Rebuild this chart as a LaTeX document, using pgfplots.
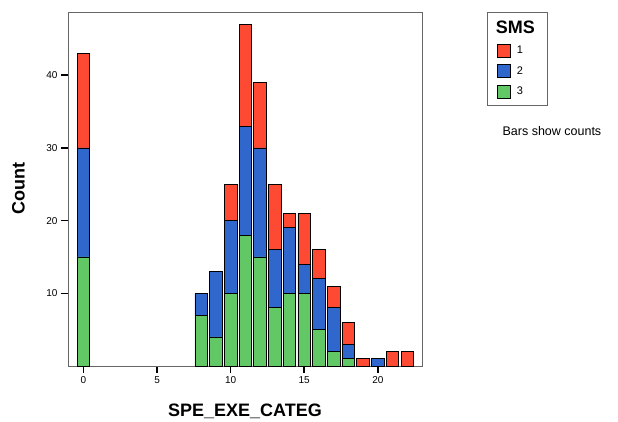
\documentclass[border=0pt]{standalone}
\usepackage{pgfplots}
\pgfplotsset{compat=1.18}
\usepackage{fontspec}
\setmainfont{Liberation Sans}
\definecolor{cRed}{RGB}{255,74,51}
\definecolor{cBlue}{RGB}{47,103,204}
\definecolor{cGreen}{RGB}{98,200,102}
\pgfplotsset{sq/.style={legend image code/.code={\draw[fill=##1,draw=black,line width=0.8pt] (0pt,-6.5pt) rectangle (13pt,6.5pt);}}}
\begin{document}
\begin{tikzpicture}
\path[use as bounding box] (-68pt,-56pt) rectangle (550pt,366pt);
\begin{axis}[
  at={(0pt,0pt)}, anchor=south west,
  scale only axis, width=354pt, height=354pt,
  ybar stacked, bar width=0.85,
  xmin=-1.05, xmax=23.0, ymin=0, ymax=48.7,
  xtick={0,5,10,15,20}, ytick={10,20,30,40},
  tick align=outside, tick pos=left,
  major tick length=7pt,
  tick style={black, line width=1.6pt},
  axis line style={draw=black!60, line width=0.8pt},
  tick label style={font=\fontsize{10}{11}\selectfont},
  /pgf/number format/assume math mode=true,
  xlabel={SPE\_EXE\_CATEG}, ylabel={Count},
  xlabel style={font=\fontsize{18}{20}\selectfont\bfseries, at={(axis description cs:0.5,-0.128)}, anchor=center},
  ylabel style={font=\fontsize{18}{20}\selectfont\bfseries, at={(axis description cs:-0.14,0.5)}, anchor=center},
  reverse legend,
  legend cell align=left,
  legend style={at={(axis description cs:1.183,1.0)}, anchor=north west,
    draw=black!60, line width=0.8pt, font=\fontsize{11}{12}\selectfont,
    inner xsep=10pt, inner ysep=7pt, row sep=6.5pt, column sep=4pt},
  clip=false,
]
\addplot[fill=cGreen, draw=black, line width=0.8pt, sq] coordinates {
 (0,15) (8,7) (9,4) (10,10) (11,18) (12,15) (13,8) (14,10) (15,10) (16,5) (17,2) (18,1) (19,0) (20,0) (21,0) (22,0)};
\addlegendentry{3}
\addplot[fill=cBlue, draw=black, line width=0.8pt, sq] coordinates {
 (0,15) (8,3) (9,9) (10,10) (11,15) (12,15) (13,8) (14,9) (15,4) (16,7) (17,6) (18,2) (19,0) (20,1) (21,0) (22,0)};
\addlegendentry{2}
\addplot[fill=cRed, draw=black, line width=0.8pt, sq] coordinates {
 (0,13) (8,0) (9,0) (10,5) (11,14) (12,9) (13,9) (14,2) (15,7) (16,4) (17,3) (18,3) (19,1) (20,0) (21,2) (22,2)};
\addlegendentry{1}
\addlegendimage{empty legend}
\addlegendentry[yshift=-5.5pt]{\hspace*{-21pt}\fontsize{18}{19}\selectfont\bfseries SMS}
\node[font=\fontsize{12.5}{14}\selectfont, anchor=center] at (axis description cs:1.367,0.664) {Bars show counts};
\end{axis}
\end{tikzpicture}
\end{document}
